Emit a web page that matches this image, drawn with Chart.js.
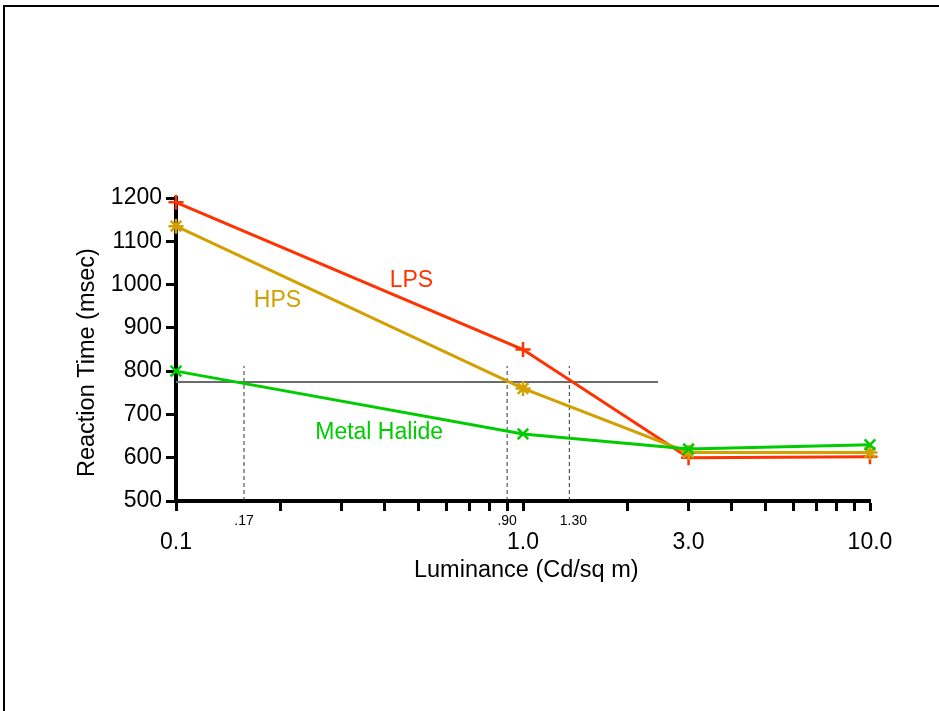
<!DOCTYPE html>
<html>
<head>
<meta charset="utf-8">
<script src="https://cdn.jsdelivr.net/npm/chart.js@4"></script>
<style>
  body { margin: 0; background: #fff; overflow: hidden; }
  #wrap { position: relative; width: 939px; height: 711px; }
  #frame { position: absolute; left: 3px; top: 5px; width: 1000px; height: 1000px;
           border-top: 2px solid #000; border-left: 2px solid #000; }
  canvas { position: absolute; left: 0; top: 0; }
</style>
</head>
<body>
<div id="wrap">
  <div id="frame"></div>
  <canvas id="chart" width="939" height="711"></canvas>
</div>
<script>
// values
const luminance = [0.1, 1.0, 3.0, 10.0];
const lps = [1190, 850, 600, 602];
const hps = [1135, 760, 612, 612];
const metalHalide = [800, 655, 620, 630];

// criterion line and where it crosses the curves
const criterionX = [0.1, 2.45];
const criterionY = 775;
const crossX = [0.157, 0.90, 1.36];
const crossLabels = ['.17', '.90', '1.30'];
const crossTop = 812;

const xTicks = [0.1, 0.2, 0.3, 0.4, 0.5, 0.6, 0.7, 0.8, 0.9, 1, 2, 3, 4, 5, 6, 7, 8, 9, 10];
const xLabels = {0.1: '0.1', 1: '1.0', 3: '3.0', 10: '10.0'};

const RED = '#ff3300';
const GOLD = '#d2a000';
const GREEN = '#00cc00';
const FONT = 'Arial, "Liberation Sans", Helvetica, sans-serif';

const pts = (ys) => luminance.map((x, i) => ({x, y: ys[i]}));

function series(label, ys, color, style, order) {
  return {
    label, data: pts(ys), borderColor: color, backgroundColor: color,
    borderWidth: 3, tension: 0, pointStyle: style, pointRadius: 7.5,
    pointBorderWidth: 2.5, pointBorderColor: color, order, clip: false
  };
}

let datasets = [
  series('LPS', lps, RED, 'cross', 3),
  series('HPS', hps, GOLD, 'star', 2),
  series('Metal Halide', metalHalide, GREEN, 'crossRot', 1),
  {
    label: 'criterion', data: criterionX.map(x => ({x, y: criterionY})),
    borderColor: '#6b6b6b', borderWidth: 2, pointRadius: 0, order: 4
  }
];
crossX.forEach((x, i) => {
  datasets.push({
    label: 'cross' + i, data: [{x, y: 500}, {x, y: crossTop}],
    borderColor: '#333', borderWidth: 1, borderDash: [4, 3], pointRadius: 0, order: 5
  });
});

// text written on the plot: curve names and crossing values
const textPlugin = {
  id: 'plotText',
  afterDatasetsDraw(chart) {
    const {ctx, scales: {x, y}} = chart;
    ctx.save();
    ctx.textAlign = 'center';
    ctx.textBaseline = 'middle';
    ctx.font = '23px ' + FONT;
    [['LPS', 0.477, 1010, RED], ['HPS', 0.196, 962, GOLD], ['Metal Halide', 0.385, 657, GREEN]]
      .forEach(([t, vx, vy, c]) => {
        ctx.fillStyle = c;
        ctx.fillText(t, x.getPixelForValue(vx), y.getPixelForValue(vy));
      });
    ctx.font = '14px ' + FONT;
    ctx.fillStyle = '#000';
    crossX.forEach((v, i) => {
      ctx.fillText(crossLabels[i], x.getPixelForValue(v) + (i == 2 ? 4 : 0), y.bottom + 20);
    });
    ctx.restore();
  }
};

new Chart(document.getElementById('chart'), {
  type: 'line',
  data: {datasets},
  plugins: [textPlugin],
  options: {
    responsive: false,
    animation: false,
    layout: {padding: {left: 0, top: 198, right: 69, bottom: 126}},
    plugins: {legend: {display: false}, tooltip: {enabled: false}},
    scales: {
      x: {
        type: 'logarithmic', min: 0.1, max: 10,
        afterBuildTicks: (scale) => { scale.ticks = xTicks.map(v => ({value: v})); },
        afterFit: (scale) => { scale.height = 84; },
        border: {color: '#000', width: 4},
        grid: {drawOnChartArea: false, drawTicks: true, tickLength: 10, tickWidth: 3, tickColor: '#000'},
        ticks: {
          autoSkip: false, maxRotation: 0, padding: 18, color: '#000',
          font: {family: FONT, size: 23},
          callback: (v) => xLabels[Math.round(v * 10) / 10] || ''
        },
        title: {display: true, text: ' Luminance (Cd/sq m)', color: '#000',
                font: {family: FONT, size: 23.5}, padding: {top: 0, bottom: 0}}
      },
      y: {
        min: 500, max: 1200,
        afterFit: (scale) => { scale.width = 176; },
        border: {color: '#000', width: 4},
        grid: {drawOnChartArea: false, drawTicks: true, tickLength: 10, tickWidth: 3, tickColor: '#000'},
        ticks: {stepSize: 100, padding: 4, color: '#000', font: {family: FONT, size: 23},
                callback: (v) => String(v)},
        title: {display: true, text: 'Reaction Time (msec)    ', color: '#000',
                font: {family: FONT, size: 23.5}, padding: {top: 73, bottom: 0}}
      }
    }
  }
});
</script>
</body>
</html>
